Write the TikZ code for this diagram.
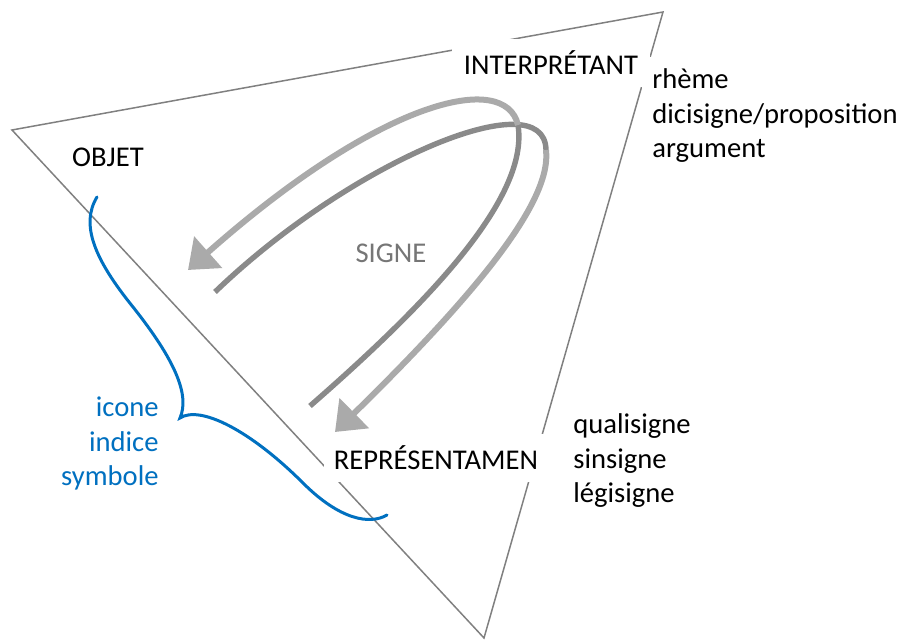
\documentclass[tikz,border=0pt]{standalone}
\usepackage{fontspec}
\setmainfont{Carlito}
\usetikzlibrary{arrows.meta}

\definecolor{signeblue}{RGB}{0,112,192}
\definecolor{arclight}{RGB}{170,170,170}
\definecolor{arcdark}{RGB}{138,138,138}
\definecolor{edgegray}{RGB}{128,128,128}
\definecolor{signegray}{RGB}{118,118,118}

\begin{document}
\begin{tikzpicture}[x=0.5pt,y=-0.5pt,
    txt/.style={fill=white,inner xsep=6pt,inner ysep=6pt,font=\fontsize{14.3}{17.4}\selectfont},
    backarc/.style={arcdark,line width=2.7pt},
    frontarc/.style={arclight,line width=3pt,-{Triangle[length=13.5pt,width=20.5pt]}},
    brace/.style={signeblue,line width=1.5pt,line cap=round}]

    \useasboundingbox (0,0) rectangle (901,641);

    % triangle
    \coordinate (cObj) at (12,130);
    \coordinate (cInt) at (663,12);
    \coordinate (cRep) at (484,638);
    \draw[edgegray,line width=0.75pt] (cObj)--(cInt)--(cRep)--cycle;

    % the two arcs of the sign
    \coordinate (tailA) at (310,406);
    \coordinate (topA) at (518,125);
    \coordinate (headA) at (188,270);
    \coordinate (tailB) at (215,292);
    \coordinate (topB) at (546,150);
    \coordinate (headB) at (335,432);
    \draw[backarc] (tailA) .. controls (420,310) and (530,200) .. (topA);
    \draw[backarc] (tailB) .. controls (350,162) and (545,80) .. (topB);
    \draw[frontarc] (topA) .. controls (505,70) and (380,100) .. (headA);
    \draw[frontarc] (topB) .. controls (552,200) and (480,290) .. (headB);

    \node[txt,anchor=base] (interp) at (551,75) {INTERPRÉTANT};
    \node[txt,anchor=base] (objet) at (108,167) {OBJET};
    \node[txt,anchor=base,text=signegray] (signe) at (391,263) {SIGNE};
    \node[txt,anchor=base,inner xsep=5pt] (repr) at (436,470) {REPRÉSENTAMEN};

    % lists (base = last line)
    \node[txt,anchor=base west,align=left,inner xsep=5pt] (interpList) at (642,158) {rhème\\dicisigne/proposition\\argument};
    \node[txt,anchor=base west,align=left] (reprList) at (561,503) {qualisigne\\sinsigne\\légisigne};
    \node[txt,anchor=base east,align=right,text=signeblue] (objetList) at (171,486) {icone\\indice\\symbole};

    % brace
    \coordinate (braceTop) at (97,197);
    \coordinate (braceTip) at (180,418);
    \coordinate (braceEnd) at (387,515);
    \draw[brace] (braceTop) .. controls (80,225) and (95,260) .. (133,307)
        .. controls (175,360) and (190,395) .. (braceTip)
        .. controls (200,405) and (250,430) .. (303,483)
        .. controls (340,520) and (370,525) .. (braceEnd);

\end{tikzpicture}
\end{document}
